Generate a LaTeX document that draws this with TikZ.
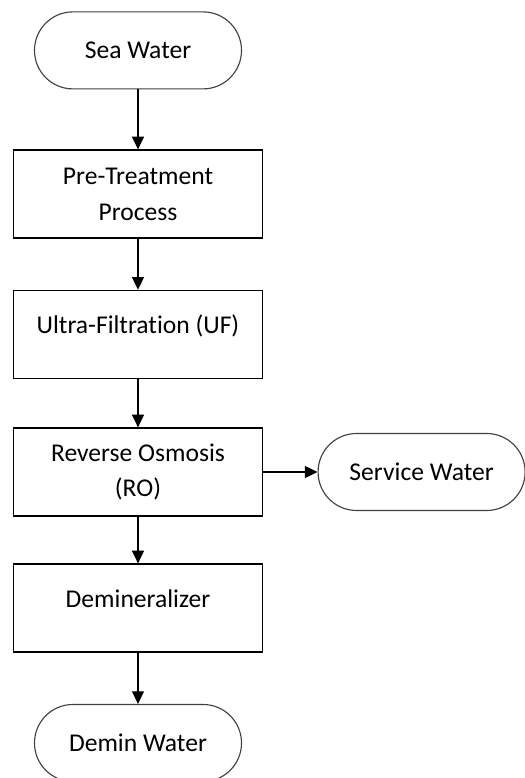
\documentclass[tikz,border=0pt]{standalone}
\usepackage{fontspec}
\setmainfont[Ligatures=NoCommon]{Carlito}
\usetikzlibrary{arrows.meta}

\begin{document}
\begin{tikzpicture}[>={Triangle[width=8.5pt,length=9pt]}, line width=0.9pt,
  procbox/.style={draw, minimum width=6.225cm, minimum height=2.2cm, align=center, font=\fontsize{18.2}{25.5}\selectfont},
  termnode/.style={draw=black!75, line width=0.8pt, rounded corners=0.96cm, minimum width=5.175cm, minimum height=1.925cm, font=\fontsize{18.2}{25.5}\selectfont}]
  \useasboundingbox (0,0) rectangle (13.1,19.45);
  \node[termnode] (sea) at (3.45, 18.19) {Sea Water};
  \node[procbox] (pre) at (3.45, 14.6) {Pre-Treatment\\Process};
  \node[procbox, text depth=0.5cm] (uf) at (3.45, 11.09) {Ultra-Filtration (UF)};
  \node[procbox] (ro) at (3.45, 7.65) {Reverse Osmosis\\(RO)};
  \node[termnode] (service) at (10.54, 7.65) {Service Water};
  \node[procbox, text depth=0.45cm] (demin) at (3.45, 4.25) {Demineralizer};
  \node[termnode] (deminw) at (3.45, 0.875) {Demin Water};
  \draw[->] (sea) -- (pre);
  \draw[->] (pre) -- (uf);
  \draw[->] (uf) -- (ro);
  \draw[->] (ro) -- (service);
  \draw[->] (ro) -- (demin);
  \draw[->] (demin) -- (deminw);
\end{tikzpicture}
\end{document}
